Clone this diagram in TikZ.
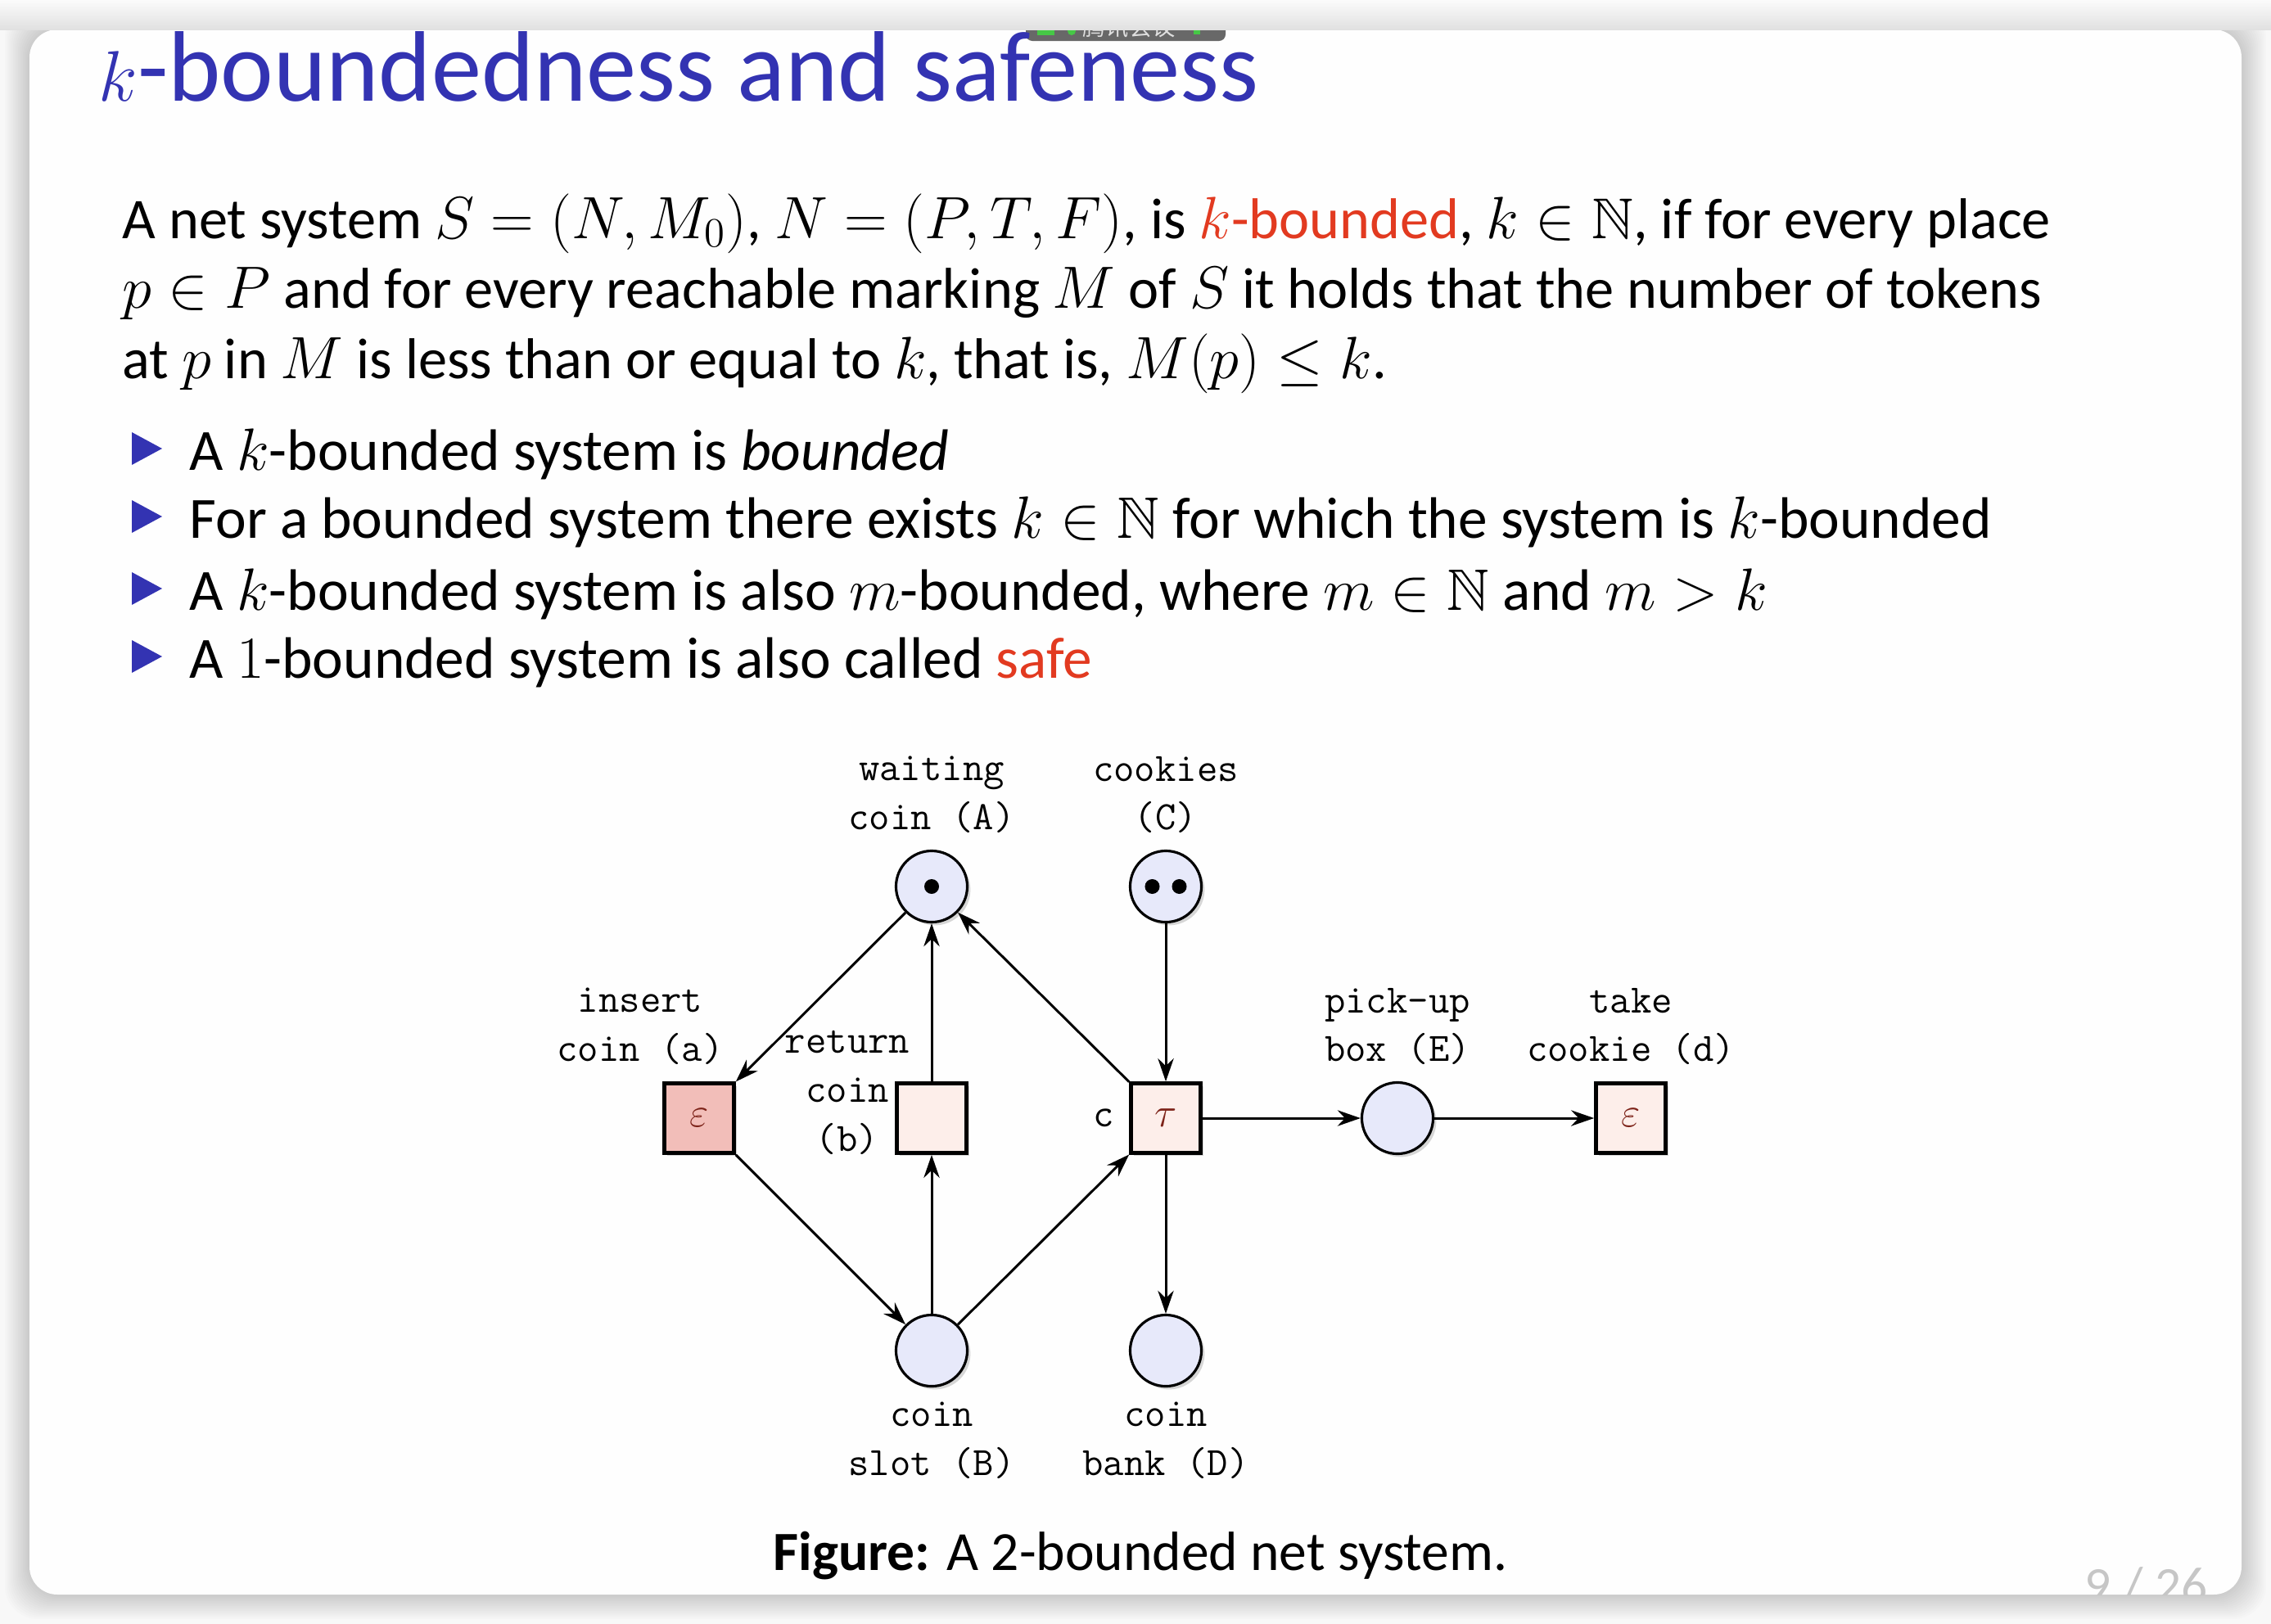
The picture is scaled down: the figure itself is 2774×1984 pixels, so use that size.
\documentclass[tikz,border=0pt]{standalone}
\usepackage{fontspec}
\setmainfont{Carlito}
\newfontfamily\cjk{Noto Sans CJK SC}
\usepackage{amsmath,amssymb}
\usetikzlibrary{arrows.meta,shadows}
\definecolor{structure}{RGB}{51,51,178}
\definecolor{alertred}{RGB}{226,58,32}
\definecolor{placefill}{RGB}{231,233,250}
\definecolor{insertfill}{RGB}{242,190,185}
\definecolor{transfill}{RGB}{253,238,234}
\definecolor{greek}{RGB}{125,35,25}
\definecolor{screen}{RGB}{248,248,248}
\definecolor{tabgray}{RGB}{104,104,104}
\definecolor{signal}{RGB}{70,200,70}

\begin{document}
\begin{tikzpicture}[x=0.01cm, y=-0.01cm,
  body/.style={anchor=base west, inner sep=0pt, font=\fontsize{20.3}{24}\selectfont},
  place/.style={circle, draw, line width=0.9pt, fill=placefill, minimum size=0.87cm, inner sep=0pt,
    drop shadow={shadow xshift=1.1pt, shadow yshift=-1.1pt, fill=black!45, opacity=0.35}},
  trans/.style={rectangle, draw, line width=1.3pt, fill=transfill, minimum size=0.85cm, inner sep=0pt,
    text=greek, font=\fontsize{15}{15}\selectfont,
    drop shadow={shadow xshift=1.1pt, shadow yshift=-1.1pt, fill=black!45, opacity=0.35}},
  lbl/.style={align=center, inner sep=0pt, font=\ttfamily\fontsize{14}{17}\selectfont},
  flow/.style={-{Stealth[length=8pt,width=5.5pt]}, line width=0.85pt}]
  \useasboundingbox (0,0) rectangle (2774,1984);
  % screen and slide
  \fill[screen] (0,0) rectangle (2774,1984);
  \foreach \s in {2,4,...,30}
    \fill[black, opacity=0.012, rounded corners=0.4cm] (36-\s,36-\s) rectangle (2738+\s,1948+\s);
  \fill[white!99!gray, rounded corners=0.34cm] (36,36) rectangle (2738,1948);
  \begin{scope}
    \clip[rounded corners=0.34cm] (36,36) rectangle (2738,1948);
    \node[anchor=base east, inner sep=0pt, text=gray!45, font=\fontsize{18}{18}\selectfont] (pagenum) at (2697,1958) {9 / 26};
  \end{scope}
  % meeting tab
  \fill[tabgray, rounded corners=0.08cm] (1253,10) rectangle (1497,50);
  \node[inner sep=0pt, text=gray!25, font=\cjk\fontsize{8}{8}\selectfont] (meeting) at (1379,33) {腾讯会议};
  \fill[signal] (1267,36) rectangle (1288,43);
  \fill[signal] (1309,38) circle[radius=0.05cm];
  \fill[signal] (1458,36) rectangle (1466,42);
  \shade[top color=gray!3, bottom color=gray!24] (0,0) rectangle (2774,36);
  % title
  \node[body, text=structure, font=\fontsize{34.8}{40}\selectfont] (title) at (120,123) {$k$-boundedness and safeness};
  % definition
  \node[body, font=\fontsize{20}{24}\selectfont] (intro1) at (149,291) {A net system $S=(N,M_0)$, $N=(P,T,F)$, is \textcolor{alertred}{$k$-bounded}, $k\in\mathbb{N}$, if for every place};
  \node[body, font=\fontsize{20}{24}\selectfont] (intro2) at (149,376) {$p\in P$ and for every reachable marking $M$ of $S$ it holds that the number of tokens};
  \node[body, font=\fontsize{20}{24}\selectfont] (intro3) at (149,462) {at $p$ in $M$ is less than or equal to $k$, that is, $M(p)\leq k$.};
  % bullets
  \foreach \y in {548,631,719,802}
    \fill[structure] (161,\y-20) -- (198,\y) -- (161,\y+20) -- cycle;
  \node[body] (item1) at (231,574) {A $k$-bounded system is \emph{bounded}};
  \node[body] (item2) at (231,657) {For a bounded system there exists $k\in\mathbb{N}$ for which the system is $k$-bounded};
  \node[body] (item3) at (231,745) {A $k$-bounded system is also $m$-bounded, where $m\in\mathbb{N}$ and $m>k$};
  \node[body] (item4) at (231,828) {A $1$-bounded system is also called \textcolor{alertred}{safe}};
  % places
  \node[place] (waiting) at (1138,1083) {};
  \node[place] (cookies) at (1424,1083) {};
  \node[place] (pickup) at (1707,1366) {};
  \node[place] (slot) at (1138,1650) {};
  \node[place] (bank) at (1424,1650) {};
  % transitions
  \node[trans, fill=insertfill] (insert) at (854,1366) {$\varepsilon$};
  \node[trans] (return) at (1138,1366) {};
  \node[trans] (serve) at (1424,1366) {$\tau$};
  \node[trans] (take) at (1992,1366) {$\varepsilon$};
  % tokens
  \fill (waiting) circle[radius=0.09cm];
  \fill ([xshift=-0.165cm]cookies.center) circle[radius=0.09cm];
  \fill ([xshift=0.165cm]cookies.center) circle[radius=0.09cm];
  % labels
  \node[lbl] (waitinglbl) at (1138,971) {waiting\\coin (A)};
  \node[lbl] (cookieslbl) at (1424,971) {cookies\\(C)};
  \node[lbl] (insertlbl) at (782,1254) {insert\\coin (a)};
  \node[lbl] (returnlbl) at (1035,1335) {return\\coin\\(b)};
  \node[lbl] (servelbl) at (1348,1366) {c};
  \node[lbl] (pickuplbl) at (1707,1254) {pick-up\\box (E)};
  \node[lbl] (takelbl) at (1992,1254) {take\\cookie (d)};
  \node[lbl] (slotlbl) at (1138,1760) {coin\\slot (B)};
  \node[lbl] (banklbl) at (1424,1760) {coin\\bank (D)};
  % arcs
  \draw[flow] (waiting) -- (insert);
  \draw[flow] (insert) -- (slot);
  \draw[flow] (slot) -- (return);
  \draw[flow] (return) -- (waiting);
  \draw[flow] (slot) -- (serve);
  \draw[flow] (serve) -- (waiting);
  \draw[flow] (cookies) -- (serve);
  \draw[flow] (serve) -- (bank);
  \draw[flow] (serve) -- (pickup);
  \draw[flow] (pickup) -- (take);
  % caption
  \node[anchor=base, inner sep=0pt, font=\fontsize{19.2}{22}\selectfont] (caption) at (1393,1918) {\textbf{Figure:} A 2-bounded net system.};
\end{tikzpicture}
\end{document}
